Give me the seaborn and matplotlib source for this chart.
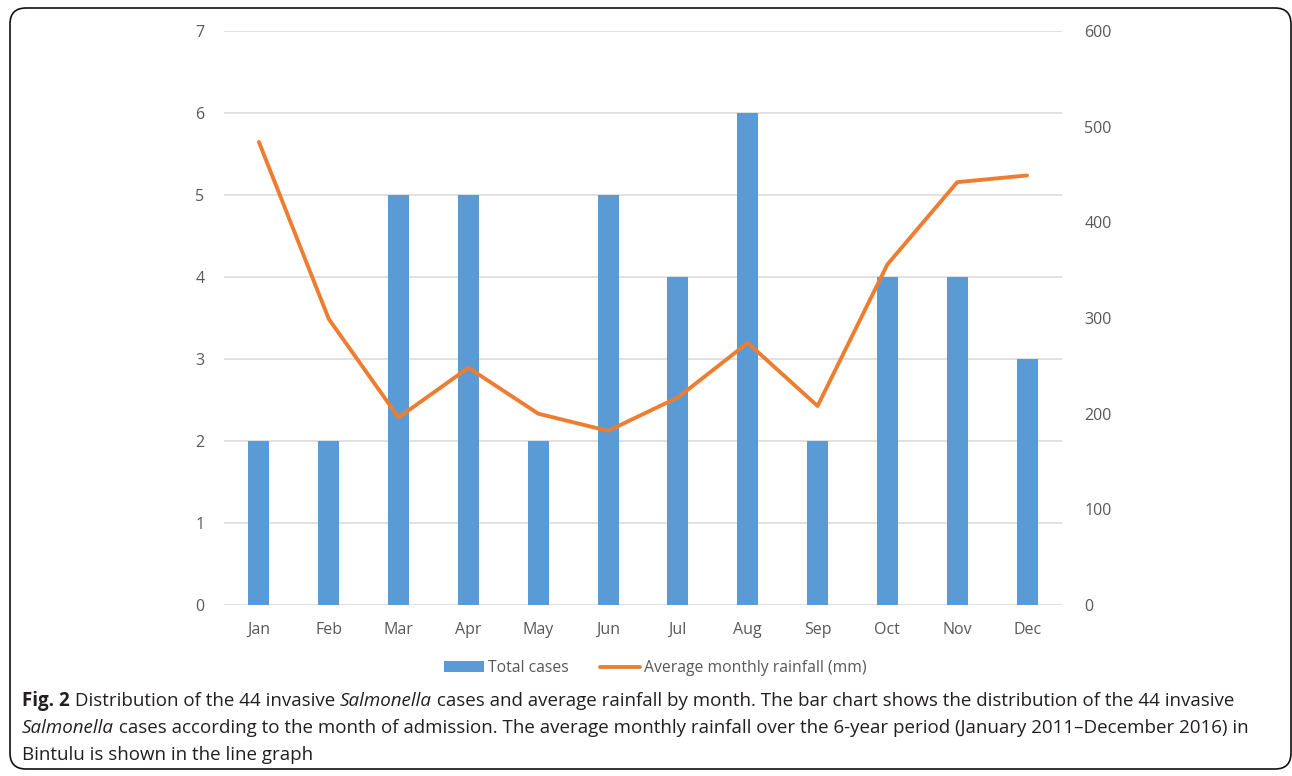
import numpy as np
import pandas as pd
import matplotlib
matplotlib.use("Agg")
import matplotlib.pyplot as plt
from matplotlib.patches import FancyBboxPatch, Patch
from matplotlib.lines import Line2D
import seaborn as sns

months = ["Jan", "Feb", "Mar", "Apr", "May", "Jun", "Jul", "Aug", "Sep", "Oct", "Nov", "Dec"]
total_cases = [2, 2, 5, 5, 2, 5, 4, 6, 2, 4, 4, 3]
rainfall_mm = [484, 299, 196, 248, 200, 182, 217, 274, 208, 356, 442, 449]
left_ticks = [0, 1, 2, 3, 4, 5, 6, 7]
right_ticks = [0, 100, 200, 300, 400, 500, 600]

BAR_COLOR = "#5b9bd5"
LINE_COLOR = "#ed7d31"
GRID_COLOR = "#d9d9d9"
TICK_COLOR = "#595959"
FONT = "Open Sans"

sns.set_theme(style="white")
plt.rcParams["font.family"] = [FONT, "DejaVu Sans"]

df = pd.DataFrame({"month": months, "cases": total_cases,
                   "rain": rainfall_mm, "pos": np.arange(len(months))})

W, H, DPI = 1292, 776, 100
fig = plt.figure(figsize=(W / DPI, H / DPI), dpi=DPI)
fig.patch.set_facecolor("white")

# plot area (pixel-based placement)
x0, x1, ytop, ybot = 224, 1062, 31, 605
ax = fig.add_axes([x0 / W, 1 - ybot / H, (x1 - x0) / W, (ybot - ytop) / H])

sns.barplot(data=df, x="month", y="cases", ax=ax, color=BAR_COLOR,
            width=0.3, saturation=1, order=months, zorder=3, linewidth=0)
ax.set_xlim(-0.5, len(months) - 0.5)
ax.set_ylim(0, 7)
ax.set_yticks(left_ticks)
ax.set_yticklabels([str(t) for t in left_ticks])
ax.set_xlabel("")
ax.set_ylabel("")
ax.grid(axis="y", color=GRID_COLOR, linewidth=1.1, zorder=0)
ax.set_axisbelow(True)
for s in ax.spines.values():
    s.set_visible(False)
ax.tick_params(axis="both", length=0, labelsize=11.5, colors=TICK_COLOR)
ax.tick_params(axis="y", pad=14)
ax.tick_params(axis="x", pad=12)

ax2 = ax.twinx()
sns.lineplot(data=df, x="pos", y="rain", ax=ax2, color=LINE_COLOR,
             linewidth=2.8, solid_capstyle="round", zorder=4)
ax2.set_ylim(0, 600)
ax2.set_yticks(right_ticks)
ax2.set_yticklabels([str(t) for t in right_ticks])
ax2.set_xlim(-0.5, len(months) - 0.5)
ax2.set_xlabel("")
ax2.set_ylabel("")
for s in ax2.spines.values():
    s.set_visible(False)
ax2.tick_params(axis="y", length=0, labelsize=11.5, colors=TICK_COLOR, pad=16)
ax2.grid(False)

# legend
handles = [Patch(facecolor=BAR_COLOR, edgecolor="none"),
           Line2D([0], [0], color=LINE_COLOR, linewidth=2.8)]
fig.legend(handles, ["Total cases", "Average monthly rainfall (mm)"],
           loc="center", bbox_to_anchor=(655 / W, 1 - 668 / H), ncol=2,
           frameon=False, fontsize=11.3, labelcolor=TICK_COLOR,
           handlelength=2.55, handleheight=0.7, handletextpad=0.25,
           columnspacing=2.0)

# caption with mixed bold / italic runs
caption = [
    [("Fig. 2", "bold", "normal"), (" Distribution of the 44 invasive ", "normal", "normal"),
     ("Salmonella", "normal", "italic"),
     (" cases and average rainfall by month. The bar chart shows the distribution of the 44 invasive", "normal", "normal")],
    [("Salmonella", "normal", "italic"),
     (" cases according to the month of admission. The average monthly rainfall over the 6-year period (January 2011\u2013December 2016) in", "normal", "normal")],
    [("Bintulu is shown in the line graph", "normal", "normal")],
]
CAP_COLOR = "#231f20"
renderer = fig.canvas.get_renderer()


def run_width(runs, size):
    w = 0.0
    for txt, wt, st in runs:
        t = fig.text(0, 0, txt, fontsize=size, fontweight=wt, fontstyle=st)
        w += t.get_window_extent(renderer).width
        t.remove()
    return w


base = 12.0
target = 1243 - 22
cap_size = base * target / run_width(caption[1], base)

line_y = [701, 728, 755]
for runs, yy in zip(caption, line_y):
    xp = 22.0
    for txt, wt, st in runs:
        t = fig.text(xp / W, 1 - yy / H, txt, fontsize=cap_size, fontweight=wt,
                     fontstyle=st, color=CAP_COLOR, va="center", ha="left")
        xp += t.get_window_extent(renderer).width

# rounded frame around figure
frame = FancyBboxPatch((0.10, 0.07), 12.81, 7.61,
                       boxstyle="round,pad=0,rounding_size=0.16",
                       transform=fig.dpi_scale_trans, fill=False,
                       edgecolor="#111111", linewidth=1.2)
fig.patches.append(frame)

fig.savefig("out.png", dpi=DPI, facecolor="white")
